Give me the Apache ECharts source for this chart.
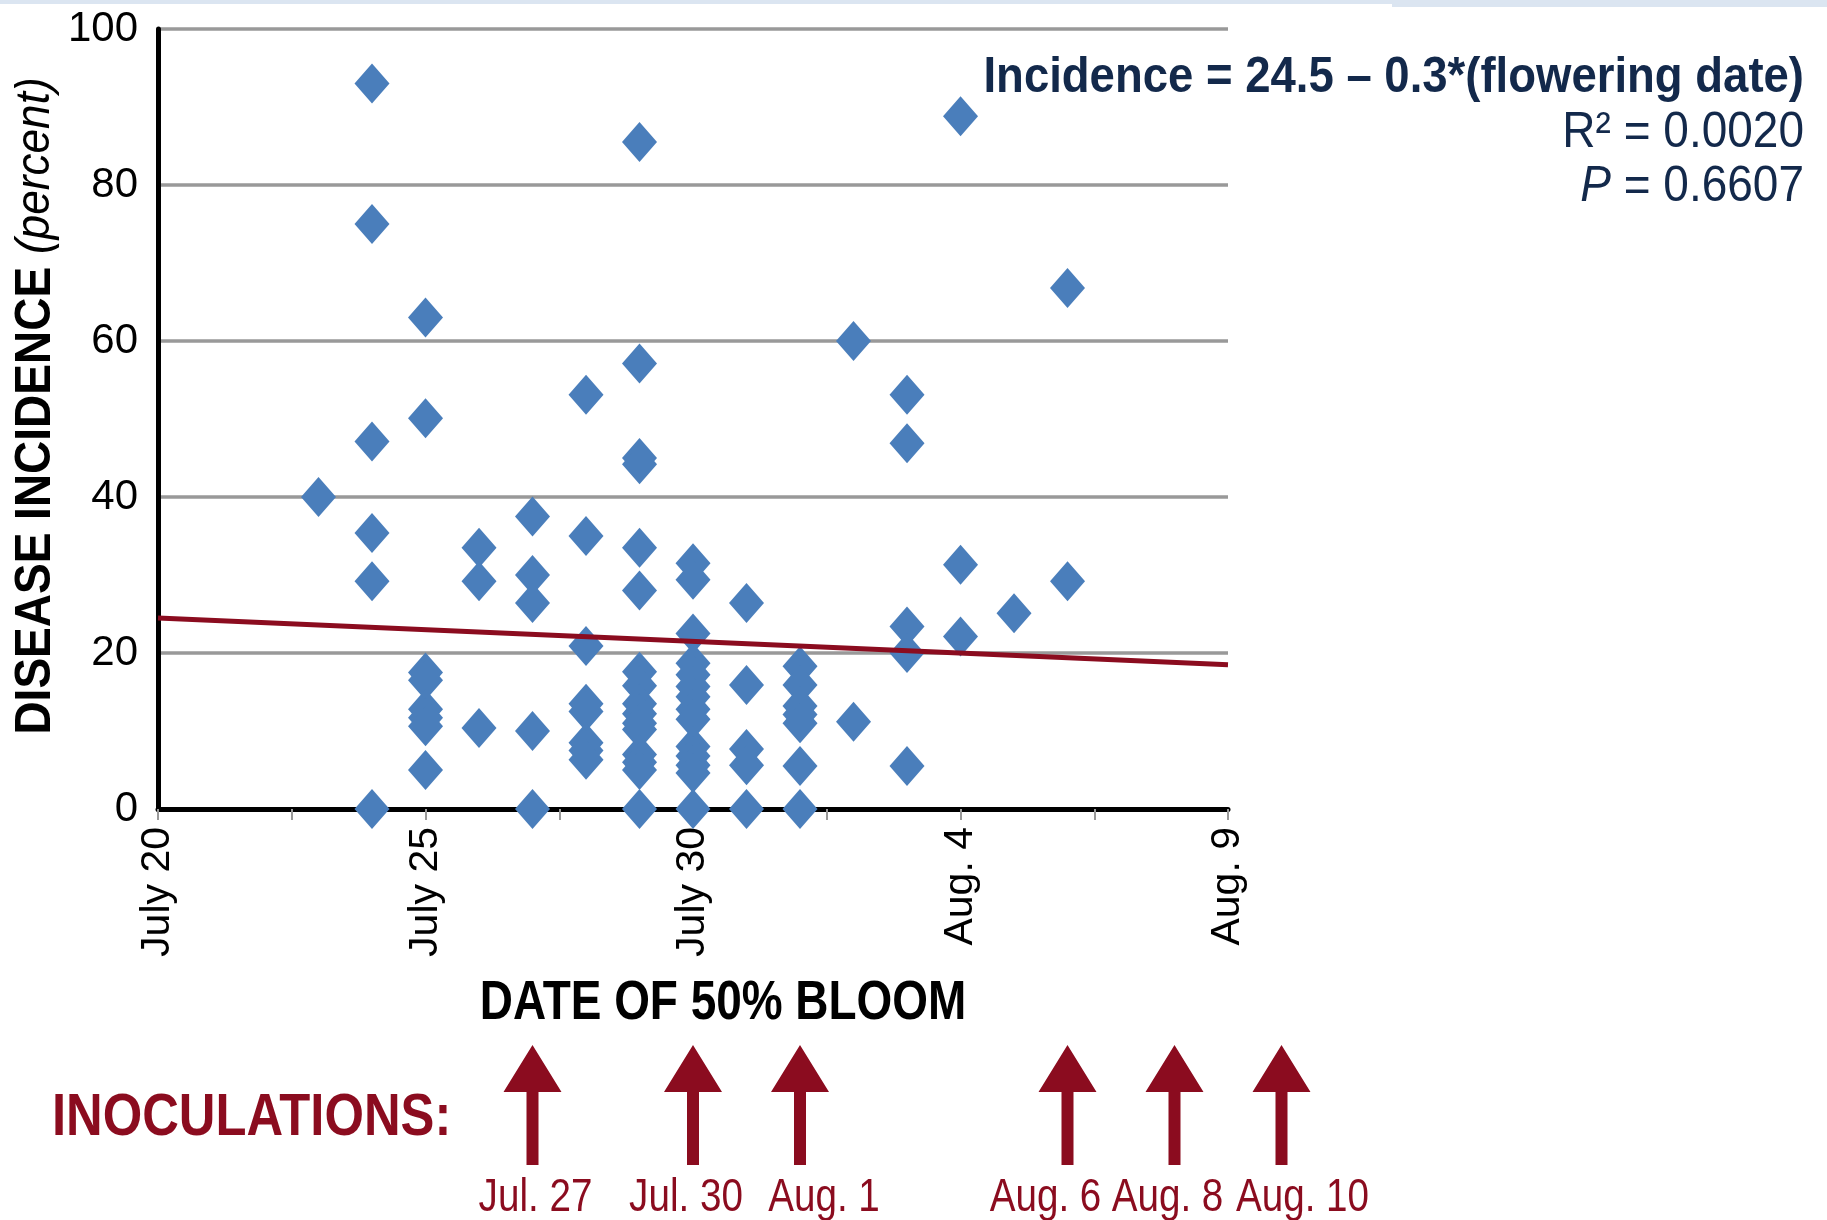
<!DOCTYPE html>
<html><head><meta charset="utf-8">
<script src="https://cdn.jsdelivr.net/npm/echarts@6/dist/echarts.min.js"></script>
<style>html,body{margin:0;padding:0;background:#fff}#c{width:1827px;height:1220px}</style>
</head><body><div id="c"></div>
<script>
// ---------- data ----------
// x = days after July 20 (date of 50% bloom)
const xTickLabels = ['July 20', 'July 25', 'July 30', 'Aug. 4', 'Aug. 9'];
const colDays = [3, 4, 5, 6, 7, 8, 9, 10, 11, 12, 13, 14, 15, 16, 17];
const colValues = [
  [40.0],
  [93.0, 75.0, 47.1, 35.4, 29.2, 0],
  [63.0, 50.1, 17.5, 16.5, 12.8, 11.7, 10.6, 5.0],
  [33.5, 29.2, 10.4],
  [37.5, 30.0, 26.4, 10.0, 0],
  [53.1, 35.0, 20.9, 13.5, 12.5, 8.5, 7.5, 6.3],
  [85.5, 57.1, 45.0, 44.2, 33.5, 28.0, 17.6, 15.8, 13.5, 12.2, 11.0, 10.2, 7.0, 6.0, 5.0, 0],
  [31.5, 29.4, 22.5, 18.7, 17.2, 15.7, 14.4, 12.8, 11.5, 8.0, 6.8, 5.6, 4.6, 0],
  [26.4, 15.9, 7.7, 5.6, 0],
  [18.3, 15.9, 13.2, 12.1, 11.0, 5.5, 0],
  [60.0, 11.2],
  [53.1, 46.9, 23.4, 20.0, 5.5],
  [88.8, 31.3, 22.1],
  [25.1],
  [66.8, 29.2]
];
const trendLine = [[0, 24.5], [20, 18.5]];
const inocDays = [7, 10, 12, 17, 19, 21];
const inocLabels = ['Jul. 27', 'Jul. 30', 'Aug. 1', 'Aug. 6', 'Aug. 8', 'Aug. 10'];
const equationText = 'Incidence = 24.5 \u2013 0.3*(flowering date)';
const r2Text = 'R\u00b2 = 0.0020';
const pText = '= 0.6607';

// ---------- style ----------
const labelShift = [3, -7, 24, -22, -7, 21];
const SANS = '"Liberation Sans",Arial,sans-serif';
const RED = '#8b0c1f';
const NAVY = '#13294b';

const scatterData = [];
colDays.forEach((d, i) => colValues[i].forEach(v => scatterData.push([d, v])));

const chart = echarts.init(document.getElementById('c'));
chart.setOption({
  animation: false,
  backgroundColor: '#fff',
  grid: [
    { left: 158, top: 29, width: 1070, height: 780, containLabel: false },
    { left: 158, top: 1045, width: 1177, height: 120, containLabel: false }
  ],
  xAxis: [{
    type: 'value', min: 0, max: 20, interval: 2.5, gridIndex: 0,
    axisLine: { show: true, onZero: false, lineStyle: { color: '#000', width: 5 } },
    axisTick: { show: true, length: 11, lineStyle: { color: '#999', width: 2 } },
    splitLine: { show: false },
    axisLabel: {
      rotate: 90, margin: 18, color: '#000', fontSize: 41, fontFamily: SANS,
      formatter: v => (v % 5 === 0 ? xTickLabels[v / 5] : '')
    }
  }, {
    type: 'value', min: 0, max: 22, gridIndex: 1, show: false
  }],
  yAxis: [{
    type: 'value', min: 0, max: 100, interval: 20, gridIndex: 0,
    axisLine: { show: true, lineStyle: { color: '#000', width: 5 } },
    axisTick: { show: false },
    splitLine: { show: true, lineStyle: { color: '#999', width: 3.5 } },
    axisLabel: { margin: 20, color: '#000', fontSize: 42, fontFamily: SANS }
  }, {
    type: 'value', min: 0, max: 1, gridIndex: 1, show: false
  }],
  series: [{
    type: 'scatter', xAxisIndex: 0, yAxisIndex: 0,
    symbol: 'diamond', symbolSize: [35, 40],
    itemStyle: { color: '#4a7ebb', opacity: 1 },
    data: scatterData, z: 3
  }, {
    type: 'line', xAxisIndex: 0, yAxisIndex: 0,
    data: trendLine, showSymbol: false, symbol: 'none',
    lineStyle: { color: RED, width: 5 }, z: 4
  }, {
    type: 'custom', xAxisIndex: 1, yAxisIndex: 1, clip: false,
    data: inocDays.map(d => [d, 0]),
    renderItem: (params, api) => {
      const d = api.value(0);
      const base = api.coord([d, 0]);
      const tip = api.coord([d, 1]);
      const hw = 29, hh = 47, sw = 6;
      const i = params.dataIndex;
      return {
        type: 'group', children: [{
          type: 'polygon',
          shape: { points: [
            [tip[0], tip[1]], [tip[0] + hw, tip[1] + hh], [tip[0] + sw, tip[1] + hh],
            [base[0] + sw, base[1]], [base[0] - sw, base[1]],
            [tip[0] - sw, tip[1] + hh], [tip[0] - hw, tip[1] + hh]
          ] },
          style: { fill: RED }
        }, {
          type: 'text', x: base[0] + labelShift[i], y: base[1] + 33, scaleX: 0.84,
          style: { text: inocLabels[i], fill: RED, fontSize: 46, fontFamily: SANS,
                   align: 'center', verticalAlign: 'middle' }
        }]
      };
    }
  }],
  graphic: [
    { type: 'rect', left: 0, top: 0, shape: { width: 1827, height: 4 }, style: { fill: '#dbe5f1' } },
    { type: 'rect', left: 1392, top: 0, shape: { width: 435, height: 7 }, style: { fill: '#dbe5f1' } },
    { type: 'text', x: 36, y: 406, rotation: Math.PI / 2, scaleX: 0.92,
      style: { text: '{b|DISEASE INCIDENCE} {i|(percent)}', align: 'center', verticalAlign: 'middle', fill: '#000',
        fontSize: 50, fontFamily: SANS,
        rich: { b: { fontWeight: 'bold', fontSize: 50, fontFamily: SANS, fill: '#000' },
                i: { fontStyle: 'italic', fontSize: 48, fontFamily: SANS, fill: '#000' } } } },
    { type: 'text', x: 723, y: 1004, scaleX: 0.82,
      style: { text: 'DATE OF 50% BLOOM', align: 'center', verticalAlign: 'middle', fill: '#000',
               fontSize: 56, fontWeight: 'bold', fontFamily: SANS } },
    { type: 'text', x: 1804, y: 78, scaleX: 0.91,
      style: { text: equationText, align: 'right', verticalAlign: 'middle', fill: NAVY,
               fontSize: 50, fontWeight: 'bold', fontFamily: SANS } },
    { type: 'text', x: 1804, y: 133, scaleX: 0.92,
      style: { text: r2Text, align: 'right', verticalAlign: 'middle', fill: NAVY,
               fontSize: 50, fontFamily: SANS } },
    { type: 'text', x: 1804, y: 187, scaleX: 0.92,
      style: { text: '{p|P} ' + pText, align: 'right', verticalAlign: 'middle', fill: NAVY,
               fontSize: 50, fontFamily: SANS,
               rich: { p: { fontStyle: 'italic', fontSize: 50, fontFamily: SANS, fill: NAVY } } } },
    { type: 'text', x: 52, y: 1119, scaleX: 0.86,
      style: { text: 'INOCULATIONS:', align: 'left', verticalAlign: 'middle', fill: RED,
               fontSize: 59, fontWeight: 'bold', fontFamily: SANS } }
  ]
});
</script></body></html>
